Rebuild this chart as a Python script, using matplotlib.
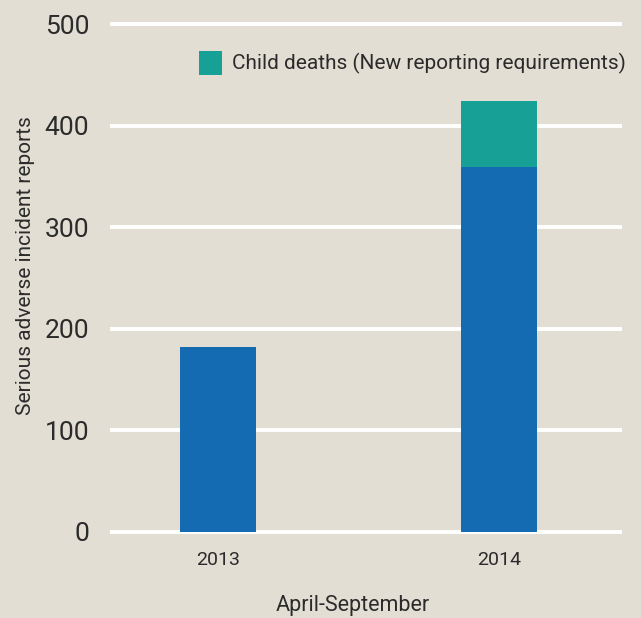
import matplotlib
matplotlib.use("Agg")
import matplotlib.pyplot as plt
from matplotlib.patches import Patch

years = ["2013", "2014"]
existing_reports = [182, 359]
child_deaths = [0, 65]

bg = "#e3ded3"
blue = "#146bb2"
teal = "#17a096"
text_col = "#2b2b2b"

plt.rcParams["font.family"] = ["Roboto", "DejaVu Sans"]

fig = plt.figure(figsize=(6.41, 6.18), dpi=100, facecolor=bg)
ax = fig.add_axes([110 / 641, 1 - 537 / 618, 512 / 641, 518 / 618], facecolor=bg)

x = range(len(years))
ax.bar(x, existing_reports, width=0.27, color=blue, zorder=3)
ax.bar(x, child_deaths, width=0.27, bottom=existing_reports, color=teal, zorder=3)

ax.set_ylim(-5, 505)
ax.set_xlim(-0.384, 1.438)
ax.set_yticks([0, 100, 200, 300, 400, 500])
ax.set_xticks(list(x))
ax.set_xticklabels(years)
ax.yaxis.grid(True, color="white", linewidth=2.8, zorder=0)
ax.set_axisbelow(True)
for side in ax.spines.values():
    side.set_visible(False)
ax.tick_params(axis="both", length=0, colors=text_col)
ax.tick_params(axis="y", labelsize=19, pad=15)
ax.tick_params(axis="x", labelsize=14, pad=10)

ax.set_ylabel("Serious adverse incident reports", fontsize=15, color=text_col)
ax.yaxis.set_label_coords(-0.146, 0.523)
ax.set_xlabel("April-September", fontsize=15.5, color=text_col)
ax.xaxis.set_label_coords(0.475, -0.112)

handles = [Patch(facecolor=teal, edgecolor="none")]
ax.legend(handles, ["Child deaths (New reporting requirements)"], loc="upper right",
          bbox_to_anchor=(1.045, 0.975), frameon=False, fontsize=15,
          handlelength=1.1, handleheight=1.4, handletextpad=0.5,
          labelcolor=text_col)

fig.savefig("out.png", dpi=100, facecolor=bg)
